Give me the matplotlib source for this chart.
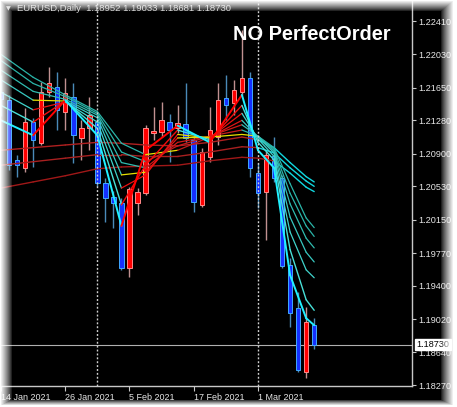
import numpy as np
import matplotlib
matplotlib.use('Agg')
import matplotlib.pyplot as plt
from matplotlib.collections import LineCollection
from matplotlib.patches import Rectangle
import matplotlib.transforms as mtrans

# ---------------- data ----------------
opens = [1.2160, 1.2151, 1.2083, 1.2074, 1.2126, 1.2102, 1.2160, 1.2166, 1.2138, 1.2155,
         1.2108, 1.2119, 1.2126, 1.2057, 1.2041, 1.2034, 1.1960, 1.2034, 1.2045, 1.2114,
         1.2115, 1.2126, 1.2119, 1.2124, 1.2106, 1.2032, 1.2086, 1.2109, 1.2153, 1.2148,
         1.2160, 1.2176, 1.2068, 1.2047, 1.2087, 1.2062, 1.1964, 1.1915, 1.1842, 1.18952]
highs = [1.2180, 1.2157, 1.2089, 1.2142, 1.2131, 1.2172, 1.2189, 1.2183, 1.2176, 1.2170,
         1.2128, 1.2155, 1.2131, 1.2062, 1.2048, 1.2040, 1.2052, 1.2051, 1.2123, 1.2143,
         1.2149, 1.2135, 1.2145, 1.2170, 1.2110, 1.2097, 1.2143, 1.2170, 1.2180, 1.2174,
         1.2231, 1.2183, 1.2079, 1.2094, 1.2109, 1.2066, 1.1971, 1.1933, 1.1916, 1.19033]
lows = [1.2133, 1.2072, 1.2064, 1.2069, 1.2075, 1.2100, 1.2155, 1.2117, 1.2117, 1.2079,
        1.2083, 1.2094, 1.2053, 1.2012, 1.2006, 1.1958, 1.1950, 1.2020, 1.2043, 1.2106,
        1.2109, 1.2081, 1.2114, 1.2103, 1.2024, 1.2029, 1.2081, 1.2100, 1.2128, 1.2134,
        1.2157, 1.2064, 1.2028, 1.1992, 1.2058, 1.1960, 1.1893, 1.1842, 1.1835, 1.18681]
closes = [1.2152, 1.2077, 1.2077, 1.2126, 1.2106, 1.2160, 1.2170, 1.2140, 1.2159, 1.2111,
          1.2119, 1.2134, 1.2057, 1.2040, 1.2034, 1.1960, 1.2050, 1.2047, 1.2119, 1.2116,
          1.2128, 1.2117, 1.2125, 1.2108, 1.2035, 1.2092, 1.2117, 1.2151, 1.2145, 1.2163,
          1.2176, 1.2074, 1.2045, 1.2089, 1.2062, 1.1962, 1.1909, 1.1844, 1.1899, 1.18730]

time_tick_bars = [0, 8, 16, 24, 32]
time_tick_labels = ['14 Jan 2021', '26 Jan 2021', '5 Feb 2021', '17 Feb 2021', '1 Mar 2021']
separator_bars = [12, 32]

price_ticks = [1.22410, 1.22030, 1.21650, 1.21280, 1.20900, 1.20530,
               1.20150, 1.19770, 1.19400, 1.19020, 1.18640, 1.18270]
price_tick_labels = ['1.22410', '1.22030', '1.21650', '1.21280', '1.20900', '1.20530',
                     '1.20150', '1.19770', '1.19400', '1.19020', '1.18640', '1.18270']
bid_price = 1.18730

# moving-average lines read at these bars
ma_bars = [0, 4, 8, 12, 15, 18, 22, 26, 30, 32, 34, 36, 38, 39]
ma_a1 = [1.2128, 1.2111, 1.2151, 1.2111, 1.2008, 1.2094, 1.2122, 1.2103, 1.2157, 1.2094, 1.2074, 1.1952, 1.1903, 1.1895]
ma_a2 = [1.2145, 1.2126, 1.2150, 1.2119, 1.2032, 1.2077, 1.2117, 1.2106, 1.2145, 1.2103, 1.2083, 1.1981, 1.1924, 1.1912]
ma_a3 = [1.2160, 1.2140, 1.2149, 1.2126, 1.2051, 1.2066, 1.2112, 1.2108, 1.2136, 1.2107, 1.2087, 1.2001, 1.1958, 1.1949]
ma_a4 = [1.2174, 1.2151, 1.2150, 1.2131, 1.2066, 1.2069, 1.2108, 1.2109, 1.2128, 1.2109, 1.2091, 1.2018, 1.1978, 1.1967]
ma_a5 = [1.2185, 1.2161, 1.2152, 1.2134, 1.2080, 1.2074, 1.2103, 1.2110, 1.2123, 1.2110, 1.2093, 1.2033, 1.1994, 1.1983]
ma_a6 = [1.2196, 1.2170, 1.2155, 1.2136, 1.2092, 1.2081, 1.2099, 1.2110, 1.2117, 1.2110, 1.2095, 1.2045, 1.2008, 1.1996]
ma_a7 = [1.2203, 1.2177, 1.2157, 1.2138, 1.2102, 1.2089, 1.2094, 1.2109, 1.2112, 1.2110, 1.2097, 1.2056, 1.2017, 1.2006]
ma_b1 = [1.2094, 1.2097, 1.2100, 1.2103, 1.2102, 1.2100, 1.2099, 1.2103, 1.2109, 1.2106, 1.2097, 1.2080, 1.2064, 1.2058]
ma_b2 = [1.2077, 1.2081, 1.2085, 1.2089, 1.2089, 1.2087, 1.2087, 1.2092, 1.2098, 1.2097, 1.2091, 1.2074, 1.2059, 1.2053]
ma_b3 = [1.2051, 1.2058, 1.2065, 1.2073, 1.2075, 1.2076, 1.2077, 1.2082, 1.2086, 1.2085, 1.2082, 1.2068, 1.2052, 1.2047]

header_text = 'EURUSD,Daily  1.18952 1.19033 1.18681 1.18730'
title_text = 'NO PerfectOrder'

# ---------------- figure ----------------
W, H = 457, 407
fig = plt.figure(figsize=(W / 100, H / 100), dpi=100, facecolor='black')
ax_left, ax_right, ax_top, ax_bot = 0, 412, 0, 386
ax = fig.add_axes([ax_left / W, (H - ax_bot) / H, (ax_right - ax_left) / W, (ax_bot - ax_top) / H])
ax.set_facecolor('black')
ax.set_xlim(-0.125, 51.18)
ax.set_ylim(1.18259, 1.22649)

for s in ['top', 'left']:
    ax.spines[s].set_visible(False)
for s in ['right', 'bottom']:
    ax.spines[s].set_color('#c8c8c8')
    ax.spines[s].set_linewidth(1.0)

lab_font = 'Liberation Sans'
ax.yaxis.tick_right()
ax.set_yticks(price_ticks)
ax.set_yticklabels(price_tick_labels, fontsize=6.6, color='#e6e6e6', family=lab_font)
ax.tick_params(axis='y', direction='out', length=3, width=0.8, color='#c8c8c8', pad=1.5)
ax.set_xticks(time_tick_bars)
ax.set_xticklabels(time_tick_labels, fontsize=6.5, color='#e6e6e6', family=lab_font, ha='left')
ax.tick_params(axis='x', direction='out', length=3.5, width=0.8, color='#c8c8c8', pad=1.2)

# bid line
ax.axhline(bid_price, color='#b0b0b0', lw=0.8, zorder=1.5)

# separators
for b in separator_bars:
    ax.axvline(b, color='#d0d0d0', lw=1.0, linestyle=(0, (1.4, 1.4)), zorder=5)

# candles
bw = 0.56
for i, (o, h, l, c) in enumerate(zip(opens, highs, lows, closes)):
    up = c >= o
    wick = '#c09090' if up else '#4a8ab8'
    face = '#ff0000' if up else '#1430ff'
    edge = '#ff8a8a' if up else '#40a8ff'
    ax.vlines(i, l, h, color=wick, lw=1.0, zorder=2)
    bot = min(o, c)
    hgt = max(abs(c - o), 0.00003)
    ax.add_patch(Rectangle((i - bw / 2, bot), bw, hgt, facecolor=face, edgecolor=edge,
                           lw=0.7, zorder=2.2))

# moving averages, colored per segment by direction
def draw_ma(vals, falling, rising, flat, lw, thr=0.00016):
    xs = np.array(ma_bars, float)
    ys = np.array(vals, float)
    segs, cols = [], []
    for k in range(len(xs) - 1):
        segs.append([(xs[k], ys[k]), (xs[k + 1], ys[k + 1])])
        sl = (ys[k + 1] - ys[k]) / (xs[k + 1] - xs[k])
        cols.append(falling if sl < -thr else (rising if sl > thr else flat))
    ax.add_collection(LineCollection(segs, colors=cols, linewidths=lw, zorder=3,
                                     capstyle='round', joinstyle='round'))

for vals, lw, fall, rise, is_long in [
    (ma_b3, 1.0, '#10d8e0', '#a01818', True),
    (ma_b2, 1.0, '#10d8e0', '#a82020', True),
    (ma_b1, 1.0, '#10d8e0', '#b02020', True),
    (ma_a7, 0.9, '#2ab4a8', '#c01c1c', False),
    (ma_a6, 0.9, '#2ab4a8', '#c81c1c', False),
    (ma_a5, 0.9, '#30bcb0', '#d01818', False),
    (ma_a4, 0.9, '#38c8c0', '#e01414', False),
    (ma_a3, 0.9, '#40d4cc', '#ea1010', False),
    (ma_a2, 1.0, '#48e0d8', '#f40c0c', False),
    (ma_a1, 1.4, '#20f0ff', '#ff0000', False),
]:
    flat = rise if is_long else '#e8e000'
    draw_ma(vals, fall, rise, flat, lw)

# current price label
trans = mtrans.blended_transform_factory(ax.transAxes, ax.transData)
ax.annotate('1.18730', xy=(1.0, bid_price), xycoords=trans, xytext=(3, 0),
            textcoords='offset points', ha='left', va='center', fontsize=6.6,
            family=lab_font, color='black', zorder=10, annotation_clip=False,
            bbox=dict(boxstyle='square,pad=0.15', facecolor='white', edgecolor='white'))

# header & title
fig.text(8 / W, 1 - 8.5 / H, '\u25bc', fontsize=4.5, color='#d0d0d0', va='center', ha='center')
fig.text(17 / W, 1 - 8.5 / H, header_text, fontsize=6.8, color='#d0d0d0', va='center',
         ha='left', family=lab_font)
fig.text(233 / W, 1 - 40 / H, title_text, fontsize=14.4, color='white', va='baseline',
         ha='left', family='Liberation Sans', weight='bold')

# soft white screenshot edge
yy, xx = np.mgrid[0:H, 0:W].astype(float)
a_left = np.clip(1 - xx / 12.0, 0, 1)
a_top = np.clip(1 - yy / 11.0, 0, 1)
a_right = np.clip((xx - 440) / 13.0, 0, 1)
a_bot = np.clip((yy - 399) / 6.0, 0, 1)
alpha = np.maximum.reduce([a_left, a_top, a_right, a_bot]) ** 0.8
img = np.ones((H, W, 4))
img[..., 3] = alpha
ov = fig.add_axes([0, 0, 1, 1], zorder=20)
ov.imshow(img, extent=(0, W, H, 0), aspect='auto', interpolation='bilinear')
ov.set_xlim(0, W)
ov.set_ylim(H, 0)
ov.axis('off')

fig.savefig('out.png', dpi=100, facecolor='black')
